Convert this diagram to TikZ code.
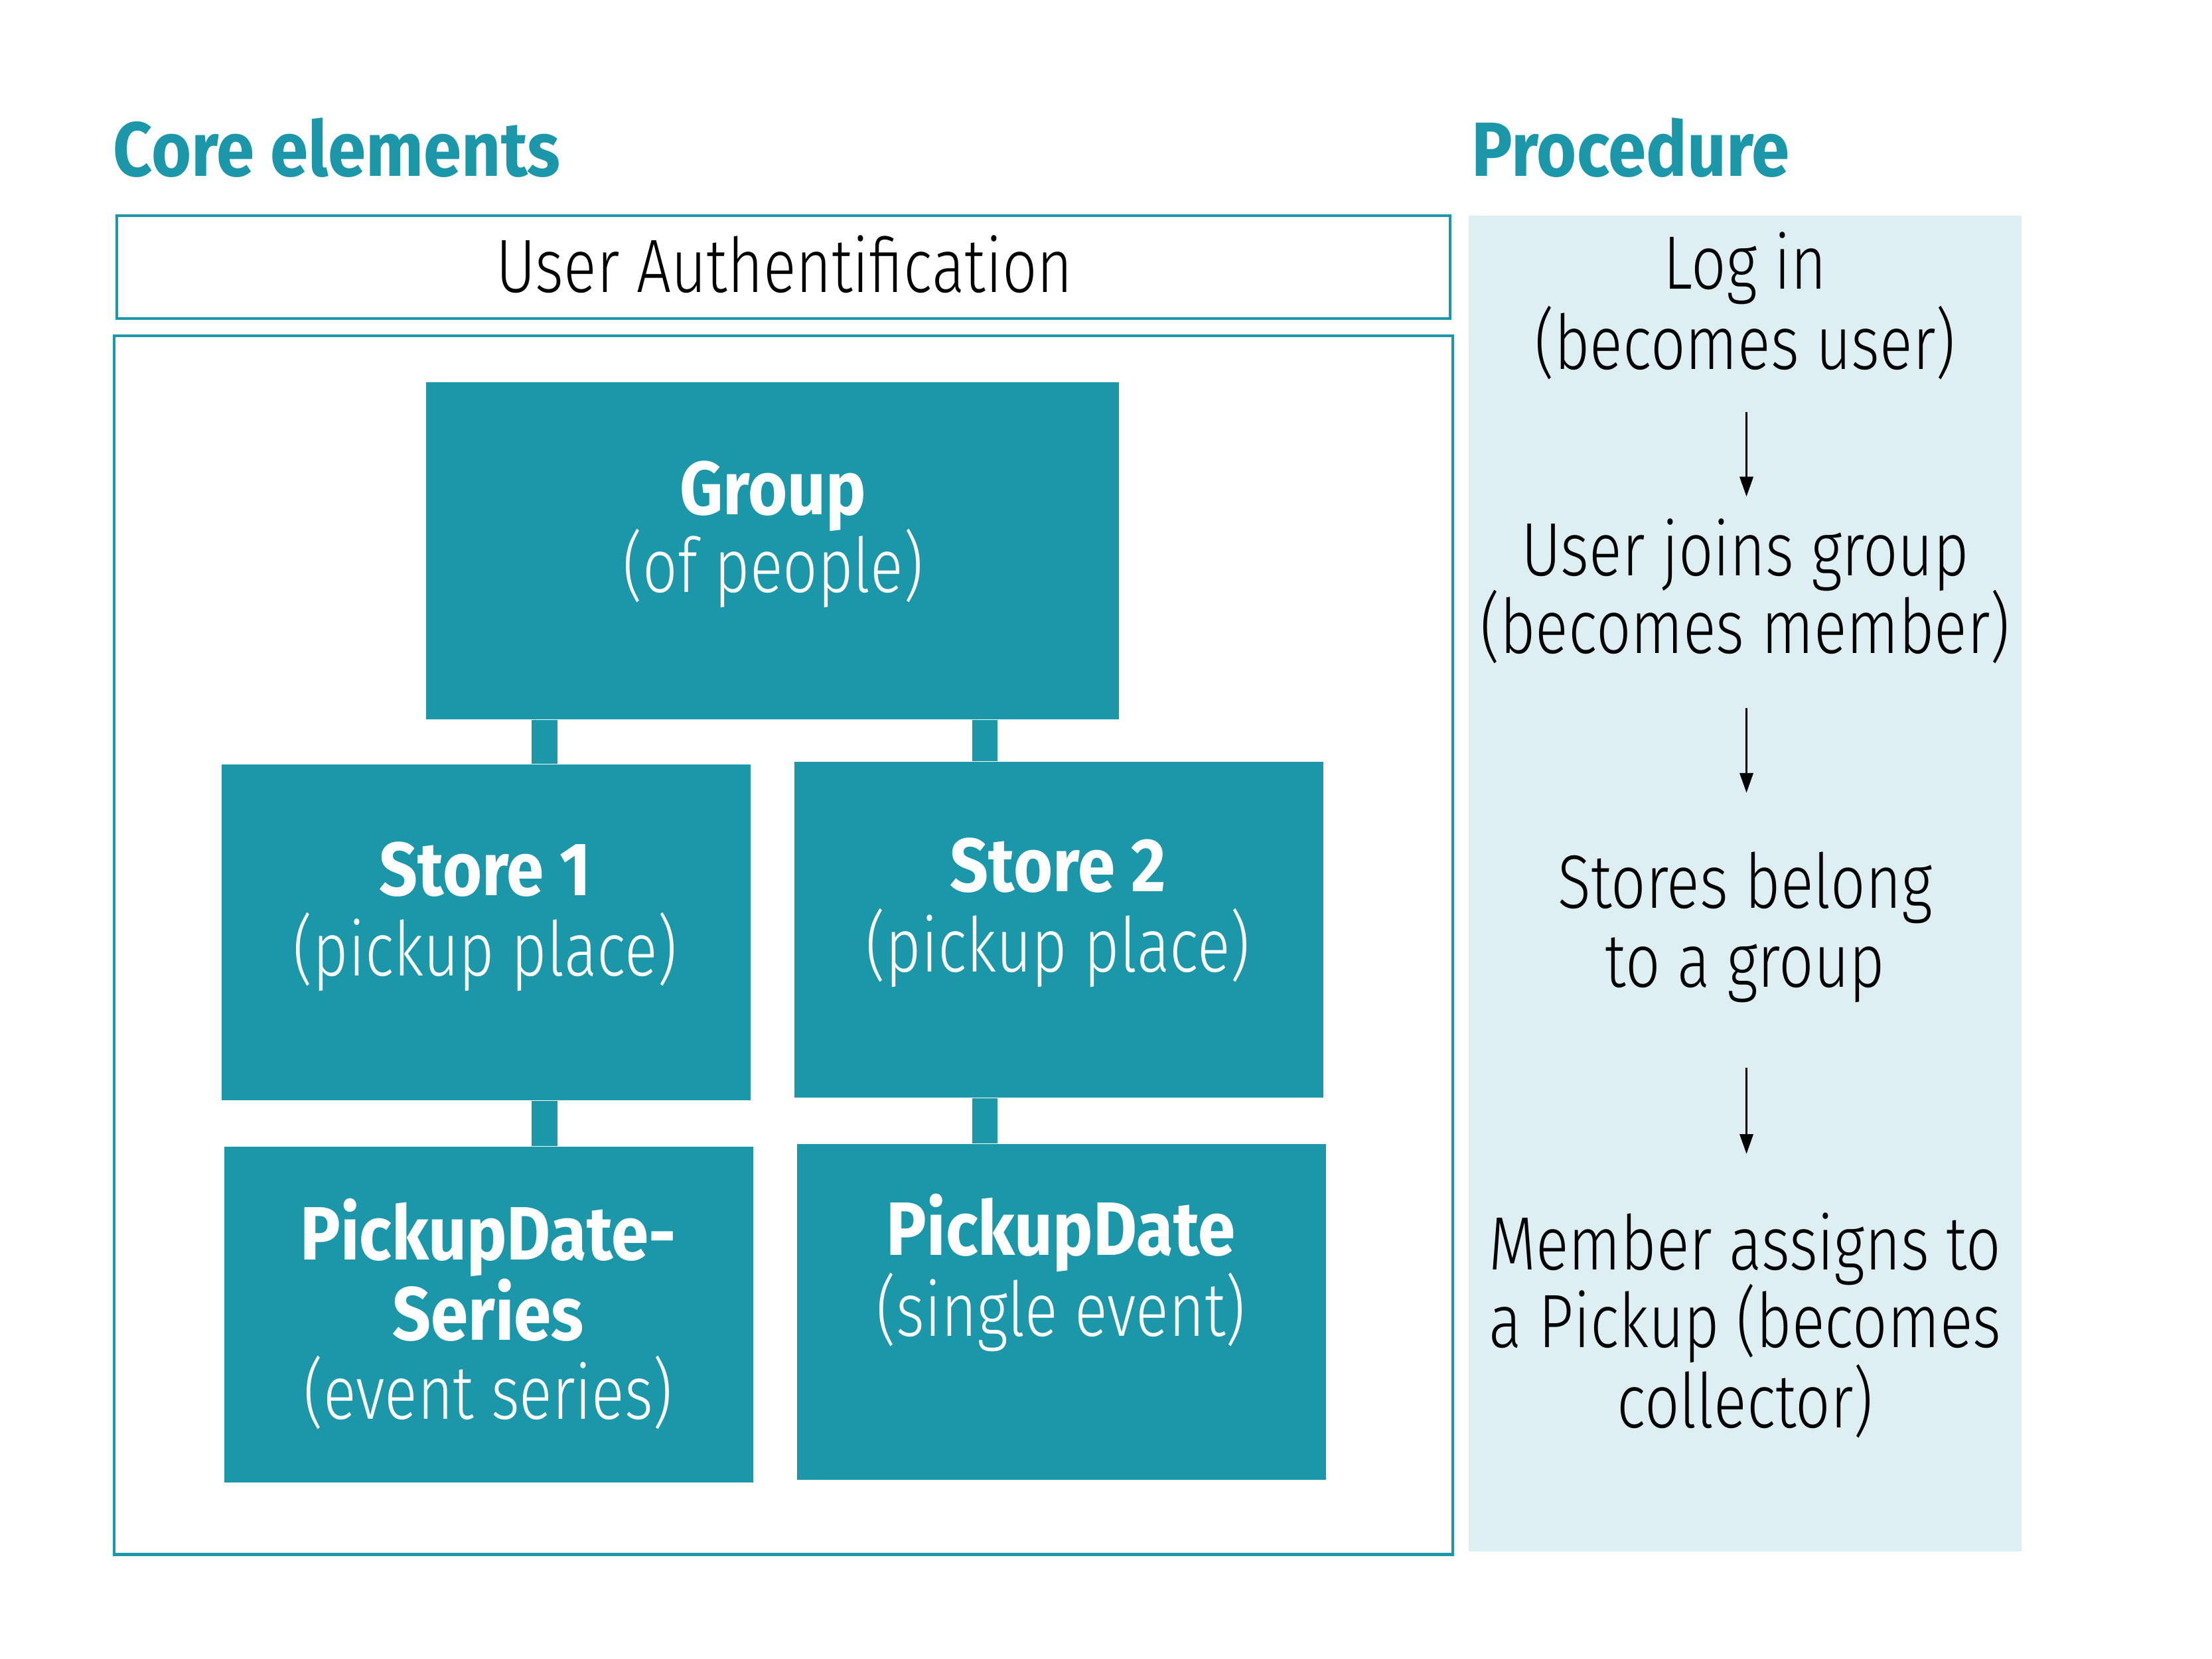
\documentclass[tikz,border=0pt]{standalone}
\usepackage{fontspec}
\setmainfont{Fira Sans}
\newfontfamily\ltf{Fira Sans}[UprightFont={* Light}, FakeStretch=0.81]
\newfontfamily\bdf{Fira Sans}[UprightFont={* Bold}, FakeStretch=0.89]
\usetikzlibrary{fit,arrows.meta}
\definecolor{tealc}{HTML}{1B97A9}
\definecolor{panelc}{HTML}{DDEFF3}
\tikzset{
  corebox/.style={fill=tealc, draw=none, inner sep=0pt, fit={#1}},
  framebox/.style={draw=tealc, line width=1.1pt, inner sep=0pt, fit={#1}},
  panelbox/.style={fill=panelc, draw=none, inner sep=0pt, fit={#1}},
  conn/.style={draw=tealc, line width=0.36cm},
  arr/.style={draw=black, line width=0.8pt, -{Triangle[length=0.28cm,width=0.19cm]}},
  lt/.style={font=\ltf\fontsize{30.5}{36}\selectfont, inner sep=0pt, anchor=base},
  bd/.style={font=\bdf\fontsize{30.5}{36}\selectfont, inner sep=0pt, anchor=base},
  wl/.style={lt, text=white},
  wb/.style={bd, text=white},
  ttl/.style={font=\bdf\fontsize{31}{36}\selectfont, inner sep=0pt, anchor=base west, text=tealc},
}
\begin{document}
\begin{tikzpicture}[x=0.02cm,y=-0.02cm]
\useasboundingbox (0,0) rectangle (1568,1176);
% titles
\node[ttl] (tcore) at (80,125) {Core elements};
\node[ttl] (tproc) at (1043,125) {Procedure};
% frames
\node[framebox={(83,153) (1028,226)}] (auth) {};
\node[lt] (authtxt) at (556,207) {User Authentification};
\node[framebox={(81,238) (1030,1102)}] (main) {};
% procedure panel
\node[panelbox={(1041,153) (1433,1100)}] (proc) {};
% core boxes
\node[corebox={(302,271) (793,510)}] (grp) {};
\node[corebox={(157,542) (532,780)}] (s1) {};
\node[corebox={(563,540) (938,778)}] (s2) {};
\node[corebox={(159,813) (534,1051)}] (pds) {};
\node[corebox={(565,811) (940,1049)}] (pd) {};
% connectors
\coordinate (cxa) at (386,0);
\coordinate (cxb) at (698,0);
\draw[conn] (grp.south -| cxa) -- (s1.north -| cxa);
\draw[conn] (grp.south -| cxb) -- (s2.north -| cxb);
\draw[conn] (s1.south -| cxa) -- (pds.north -| cxa);
\draw[conn] (s2.south -| cxb) -- (pd.north -| cxb);
% box texts
\node[wb] (g1) at (548,365) {Group};
\node[wl] (g2) at (548,420) {(of people)};
\node[wb] (s1a) at (344,635) {Store 1};
\node[wl] (s1b) at (344,692) {(pickup place)};
\node[wb] (s2a) at (750,632) {Store 2};
\node[wl] (s2b) at (750,689) {(pickup place)};
\node[wb] (p1a) at (346,893) {PickupDate-};
\node[wb] (p1b) at (346,950) {Series};
\node[wl] (p1c) at (346,1006) {(event series)};
\node[wb] (p2a) at (752,890) {PickupDate};
\node[wl] (p2b) at (752,947) {(single event)};
% procedure texts
\node[lt] (r1a) at (1237,205) {Log in};
\node[lt] (r1b) at (1237,262) {(becomes user)};
\node[lt] (r2a) at (1237,408) {User joins group};
\node[lt] (r2b) at (1237,463) {(becomes member)};
\node[lt] (r3a) at (1237,644) {Stores belong};
\node[lt] (r3b) at (1237,700) {to a group};
\node[lt] (r4a) at (1237,900) {Member assigns to};
\node[lt] (r4b) at (1237,955) {a Pickup (becomes};
\node[lt] (r4c) at (1237,1012) {collector)};
% arrows
\coordinate (a1s) at (1238,292);
\coordinate (a1e) at (1238,352);
\coordinate (a2s) at (1238,502);
\coordinate (a2e) at (1238,562);
\coordinate (a3s) at (1238,757);
\coordinate (a3e) at (1238,818);
\draw[arr] (a1s) -- (a1e);
\draw[arr] (a2s) -- (a2e);
\draw[arr] (a3s) -- (a3e);
\end{tikzpicture}
\end{document}
